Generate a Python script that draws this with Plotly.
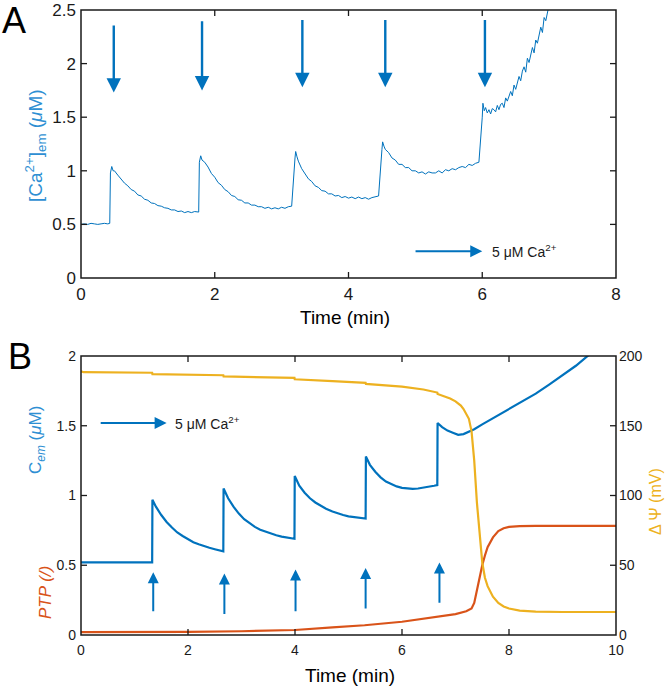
import plotly.graph_objects as go

# ---------------- Panel A data (measured trace) ----------------
time_a = [0.00, 0.05, 0.10, 0.15, 0.20, 0.25, 0.30, 0.35, 0.40, 0.43,
          0.44, 0.46, 0.48,
          0.50, 0.55, 0.60, 0.65, 0.70, 0.75, 0.80, 0.85, 0.90, 0.95, 1.00, 1.05, 1.10, 1.15,
          1.20, 1.25, 1.30, 1.35, 1.40, 1.45, 1.50, 1.55, 1.60, 1.65, 1.70, 1.76,
          1.77, 1.79, 1.81,
          1.85, 1.90, 1.95, 2.00, 2.05, 2.10, 2.15, 2.20, 2.25, 2.30, 2.35, 2.40, 2.45, 2.50,
          2.55, 2.60, 2.65, 2.70, 2.75, 2.80, 2.85, 2.90, 2.95, 3.00, 3.05, 3.10, 3.15, 3.20,
          3.21, 3.23, 3.25,
          3.30, 3.35, 3.40, 3.45, 3.50, 3.55, 3.60, 3.65, 3.70, 3.75, 3.80, 3.85, 3.90, 3.95,
          4.00, 4.05, 4.10, 4.15, 4.20, 4.25, 4.30, 4.35, 4.40, 4.45, 4.50,
          4.51, 4.53, 4.55,
          4.60, 4.65, 4.70, 4.75, 4.80, 4.85, 4.90, 4.95, 5.00, 5.05, 5.10, 5.15, 5.20, 5.25,
          5.30, 5.35, 5.40, 5.45, 5.50, 5.55, 5.60, 5.65, 5.70, 5.75, 5.80, 5.85, 5.90, 5.95, 6.00,
          6.01, 6.03, 6.05,
          6.075, 6.10, 6.125, 6.15, 6.175, 6.20, 6.225, 6.25, 6.275, 6.30, 6.325, 6.35, 6.375,
          6.40, 6.425, 6.45, 6.475, 6.50, 6.525, 6.55, 6.575, 6.60, 6.625, 6.65, 6.675, 6.70,
          6.725, 6.75, 6.775, 6.80, 6.825, 6.85, 6.875, 6.90, 6.925, 6.95, 6.975, 7.00, 7.025,
          7.05, 7.075, 7.10]
ca_a = [0.50, 0.505, 0.50, 0.51, 0.505, 0.50, 0.505, 0.51, 0.505, 0.51,
        0.98, 1.04, 1.00,
        1.00, 0.96, 0.92, 0.885, 0.86, 0.825, 0.81, 0.775, 0.765, 0.735, 0.725, 0.70, 0.695, 0.675,
        0.67, 0.655, 0.65, 0.635, 0.635, 0.62, 0.625, 0.61, 0.62, 0.61, 0.62, 0.615,
        1.08, 1.14, 1.10,
        1.08, 1.035, 0.975, 0.94, 0.89, 0.865, 0.825, 0.805, 0.77, 0.76, 0.73, 0.725, 0.70,
        0.70, 0.68, 0.68, 0.665, 0.665, 0.65, 0.66, 0.645, 0.655, 0.645, 0.66, 0.65, 0.665, 0.67,
        1.12, 1.18, 1.13,
        1.09, 1.02, 0.975, 0.925, 0.90, 0.86, 0.845, 0.815, 0.81, 0.785, 0.785, 0.765, 0.77,
        0.75, 0.76, 0.745, 0.755, 0.74, 0.755, 0.74, 0.75, 0.735, 0.75, 0.755, 0.765,
        1.20, 1.27, 1.23,
        1.20, 1.17, 1.12, 1.10, 1.06, 1.06, 1.03, 1.03, 1.00, 1.00, 0.98, 0.99, 0.97, 0.99,
        0.98, 0.98, 1.00, 0.98, 1.01, 1.00, 1.02, 1.01, 1.03, 1.04, 1.03, 1.06, 1.05, 1.07, 1.08,
        1.50, 1.63, 1.56,
        1.59, 1.54, 1.57, 1.53, 1.58, 1.57, 1.55, 1.61, 1.57, 1.62, 1.63, 1.59, 1.68,
        1.65, 1.69, 1.74, 1.70, 1.80, 1.76, 1.82, 1.88, 1.84, 1.93, 1.97, 1.92, 2.05,
        2.01, 2.08, 2.15, 2.10, 2.22, 2.19, 2.28, 2.34, 2.29, 2.43, 2.40, 2.50, 2.55,
        2.53, 2.64, 2.62]

# Ca2+ additions (arrow positions) in panel A
add_a_time = [0.49, 1.81, 3.31, 4.55, 6.04]
add_a_tail = [2.37, 2.41, 2.42, 2.42, 2.42]
add_a_tip = [1.73, 1.75, 1.78, 1.78, 1.78]

# ---------------- Panel B data (model) ----------------
time_cem = [0.00, 1.33, 1.335, 1.40, 1.50, 1.60, 1.70, 1.80, 1.90, 2.00, 2.10, 2.20, 2.30,
            2.40, 2.50, 2.60, 2.66, 2.665, 2.75, 2.85, 2.95, 3.05, 3.15, 3.25, 3.35, 3.45,
            3.55, 3.65, 3.75, 3.85, 3.99, 3.995, 4.08, 4.18, 4.28, 4.38, 4.48, 4.58, 4.70,
            4.80, 4.90, 5.00, 5.10, 5.20, 5.32, 5.325, 5.40, 5.50, 5.60, 5.70, 5.80, 5.90,
            6.00, 6.10, 6.20, 6.30, 6.40, 6.50, 6.60, 6.66, 6.665, 6.75, 6.85, 6.95, 7.05,
            7.15, 7.25, 7.35, 7.50, 7.75, 8.00, 8.25, 8.50, 8.75, 9.00, 9.25, 9.50]
cem = [0.52, 0.52, 0.97, 0.92, 0.86, 0.81, 0.77, 0.735, 0.71, 0.685, 0.665, 0.65, 0.635,
       0.625, 0.615, 0.605, 0.60, 1.05, 0.98, 0.92, 0.87, 0.83, 0.80, 0.775, 0.755, 0.74,
       0.725, 0.715, 0.705, 0.70, 0.69, 1.14, 1.07, 1.02, 0.98, 0.95, 0.925, 0.905, 0.885,
       0.87, 0.86, 0.85, 0.845, 0.84, 0.835, 1.28, 1.22, 1.17, 1.13, 1.10, 1.08, 1.065,
       1.055, 1.05, 1.048, 1.05, 1.055, 1.06, 1.07, 1.075, 1.52, 1.49, 1.465, 1.45, 1.435,
       1.44, 1.455, 1.475, 1.51, 1.565, 1.62, 1.675, 1.73, 1.795, 1.86, 1.93, 2.01]

time_psi = [0.00, 0.05, 1.33, 1.335, 2.66, 2.665, 3.99, 3.995, 4.70, 5.32, 5.325, 6.00,
            6.40, 6.66, 6.665, 6.80, 6.90, 7.00, 7.10, 7.15, 7.20, 7.25, 7.30, 7.35, 7.40,
            7.45, 7.50, 7.55, 7.60, 7.70, 7.80, 7.90, 8.00, 8.20, 8.50, 9.00, 10.00]
psi = [189.0, 188.4, 188.0, 187.0, 186.2, 185.4, 184.3, 183.3, 182.0, 180.8, 180.0, 178.0,
       176.0, 173.8, 172.8, 171.0, 169.5, 167.5, 164.5, 162.0, 159.0, 155.0, 146.0, 125.0,
       95.0, 70.0, 52.0, 41.0, 35.0, 27.5, 23.0, 20.5, 19.0, 17.5, 16.8, 16.5, 16.5]

time_ptp = [0.0, 1.0, 2.0, 3.0, 4.0, 4.7, 5.3, 6.0, 6.7, 7.0, 7.2, 7.3, 7.35, 7.40, 7.45,
            7.50, 7.55, 7.60, 7.70, 7.80, 7.90, 8.00, 8.20, 8.50, 10.0]
ptp = [0.020, 0.020, 0.022, 0.027, 0.036, 0.055, 0.070, 0.095, 0.130, 0.150, 0.170, 0.190,
       0.230, 0.320, 0.420, 0.500, 0.570, 0.630, 0.700, 0.745, 0.765, 0.775, 0.780, 0.782,
       0.782]

add_b_time = [1.35, 2.68, 4.01, 5.32, 6.70]
add_b_tail = [0.16, 0.14, 0.16, 0.18, 0.22]
add_b_tip = [0.45, 0.44, 0.47, 0.48, 0.52]

# tick values
xticks_a = [0, 2, 4, 6, 8]
yticks_a = [0, 0.5, 1, 1.5, 2, 2.5]
xticks_b = [0, 2, 4, 6, 8, 10]
yticks_b = [0, 0.5, 1, 1.5, 2]
yticks_psi = [0, 50, 100, 150, 200]

legend_label = "5 μM Ca<sup>2+</sup>"

# ---------------- styling ----------------
BLUE = "#0072BD"
LBLUE = "#2E8FD3"
ORANGE = "#D95319"
YELLOW = "#EDB120"
AX = "#1a1a1a"
FONT = "Liberation Sans, Arial, Helvetica, sans-serif"
W, H = 666, 688
TL = 6  # tick length in px

# plot-area geometry in pixels
A_LEFT, A_RIGHT, A_TOP, A_BOTTOM = 81, 616, 10, 278
B_TOP, B_BOTTOM = 356, 635


def px(xp):
    return xp / W


def py(yp):
    return 1 - yp / H


fig = go.Figure()
fig.add_trace(go.Scatter(x=time_a, y=ca_a, mode="lines", xaxis="x", yaxis="y",
                         line=dict(color=BLUE, width=1), showlegend=False))
fig.add_trace(go.Scatter(x=time_ptp, y=ptp, mode="lines", xaxis="x2", yaxis="y2",
                         line=dict(color=ORANGE, width=2.2), showlegend=False))
fig.add_trace(go.Scatter(x=time_cem, y=cem, mode="lines", xaxis="x2", yaxis="y2",
                         line=dict(color=BLUE, width=2.2), showlegend=False))
fig.add_trace(go.Scatter(x=time_psi, y=psi, mode="lines", xaxis="x2", yaxis="y3",
                         line=dict(color=YELLOW, width=2.2), showlegend=False))


# inside tick marks drawn as short line segments (length TL pixels, in data units)
def tick_lines(vals, lo, hi, length, vertical, xa, ya):
    xs, ys = [], []
    for v in vals[1:-1]:
        for start, end in ((lo, lo + length), (hi, hi - length)):
            if vertical:
                xs += [v, v, None]
                ys += [start, end, None]
            else:
                xs += [start, end, None]
                ys += [v, v, None]
    fig.add_trace(go.Scatter(x=xs, y=ys, mode="lines", xaxis=xa, yaxis=ya,
                             hoverinfo="skip", showlegend=False,
                             line=dict(color=AX, width=1.3)))


a_w = A_RIGHT - A_LEFT
a_h = A_BOTTOM - A_TOP
b_h = B_BOTTOM - B_TOP
tick_lines(xticks_a, yticks_a[0], yticks_a[-1], TL * yticks_a[-1] / a_h, True, "x", "y")
tick_lines(yticks_a, xticks_a[0], xticks_a[-1], TL * xticks_a[-1] / a_w, False, "x", "y")
tick_lines(xticks_b, yticks_b[0], yticks_b[-1], TL * yticks_b[-1] / b_h, True, "x2", "y2")
tick_lines(yticks_b, xticks_b[0], xticks_b[-1], TL * xticks_b[-1] / a_w, False, "x2", "y2")

common = dict(showgrid=False, zeroline=False, showline=False,
              ticks="", automargin=False)
xdom = [px(A_LEFT), px(A_RIGHT)]

fig.update_layout(
    template="none",
    width=W, height=H, margin=dict(l=0, r=0, t=0, b=0, autoexpand=False),
    paper_bgcolor="white", plot_bgcolor="white",
    font=dict(family=FONT, color=AX),
    xaxis=dict(domain=xdom, anchor="y", range=[0, 8], tickvals=xticks_a,
               tickfont=dict(size=17), ticklabelstandoff=4, **common),
    yaxis=dict(domain=[py(A_BOTTOM), py(A_TOP)], anchor="x", range=[0, 2.5],
               tickvals=yticks_a, tickfont=dict(size=17), ticklabelstandoff=4, **common),
    xaxis2=dict(domain=xdom, anchor="y2", range=[0, 10], tickvals=xticks_b,
                tickfont=dict(size=14), ticklabelstandoff=5, **common),
    yaxis2=dict(domain=[py(B_BOTTOM), py(B_TOP)], anchor="x2", range=[0, 2],
                tickvals=yticks_b, tickfont=dict(size=14), ticklabelstandoff=4, **common),
    yaxis3=dict(overlaying="y2", side="right", anchor="x2", range=[0, 200],
                tickvals=yticks_psi, tickfont=dict(size=14),
                ticklabelstandoff=2, **common),
)

# frame boxes around both panels
for xr, yr in (("x", "y"), ("x2", "y2")):
    fig.add_shape(type="rect", xref=xr + " domain", yref=yr + " domain", x0=0, x1=1,
                  y0=0, y1=1, line=dict(color=AX, width=1.5),
                  fillcolor="rgba(0,0,0,0)", layer="above")

ann = []
# arrows panel A
for t, a, b in zip(add_a_time, add_a_tail, add_a_tip):
    ann.append(dict(x=t, y=b, ax=t, ay=a, xref="x", yref="y", axref="x", ayref="y",
                    text="", showarrow=True, arrowhead=2, arrowsize=1.2, arrowwidth=2.4,
                    arrowcolor=BLUE))
ann.append(dict(x=6.0, y=0.25, ax=4.98, ay=0.25, xref="x", yref="y", axref="x", ayref="y",
                text="", showarrow=True, arrowhead=2, arrowsize=1.2, arrowwidth=2,
                arrowcolor=BLUE))
ann.append(dict(x=6.12, y=0.25, xref="x", yref="y", text=legend_label, showarrow=False,
                xanchor="left", yanchor="middle", font=dict(size=14, color=AX)))
# arrows panel B
for t, a, b in zip(add_b_time, add_b_tail, add_b_tip):
    ann.append(dict(x=t, y=b, ax=t, ay=a, xref="x2", yref="y2", axref="x2", ayref="y2",
                    text="", showarrow=True, arrowhead=2, arrowsize=1.1, arrowwidth=2,
                    arrowcolor=BLUE))
ann.append(dict(x=1.6, y=1.52, ax=0.34, ay=1.52, xref="x2", yref="y2", axref="x2",
                ayref="y2", text="", showarrow=True, arrowhead=2, arrowsize=1.2,
                arrowwidth=2, arrowcolor=BLUE))
ann.append(dict(x=1.72, y=1.52, xref="x2", yref="y2", text=legend_label, showarrow=False,
                xanchor="left", yanchor="middle", font=dict(size=14, color=AX)))

# titles and letters
ann += [
    dict(x=px(14), y=py(21), xref="paper", yref="paper", text="A", showarrow=False,
         font=dict(size=36, color="black"), xanchor="center", yanchor="middle"),
    dict(x=px(20), y=py(356), xref="paper", yref="paper", text="B", showarrow=False,
         font=dict(size=36, color="black"), xanchor="center", yanchor="middle"),
    dict(x=px(36), y=py(146), xref="paper", yref="paper", textangle=-90,
         text="[Ca<sup>2+</sup>]<sub>em</sub> (<i>μ</i>M)", showarrow=False,
         font=dict(size=19, color=LBLUE), xanchor="center", yanchor="middle"),
    dict(x=px(37), y=py(440), xref="paper", yref="paper", textangle=-90,
         text="C<sub><i>em</i></sub> (<i>μ</i>M)", showarrow=False,
         font=dict(size=17, color=LBLUE), xanchor="center", yanchor="middle"),
    dict(x=px(45), y=py(593), xref="paper", yref="paper", textangle=-90,
         text="<i>PTP (/)</i>", showarrow=False,
         font=dict(size=17, color=ORANGE), xanchor="center", yanchor="middle"),
    dict(x=px(655), y=py(502), xref="paper", yref="paper", textangle=-90,
         text="Δ Ψ (mV)", showarrow=False,
         font=dict(size=16, color=YELLOW), xanchor="center", yanchor="middle"),
    dict(x=px(345), y=py(317), xref="paper", yref="paper", text="Time (min)",
         showarrow=False, font=dict(size=19, color="black"),
         xanchor="center", yanchor="middle"),
    dict(x=px(350), y=py(675), xref="paper", yref="paper", text="Time (min)",
         showarrow=False, font=dict(size=19, color="black"),
         xanchor="center", yanchor="middle"),
]
fig.update_layout(annotations=ann)

fig.write_html("out.html", config={"displayModeBar": False},
               post_script="document.body.style.margin='0';document.body.style.overflow='hidden';")
